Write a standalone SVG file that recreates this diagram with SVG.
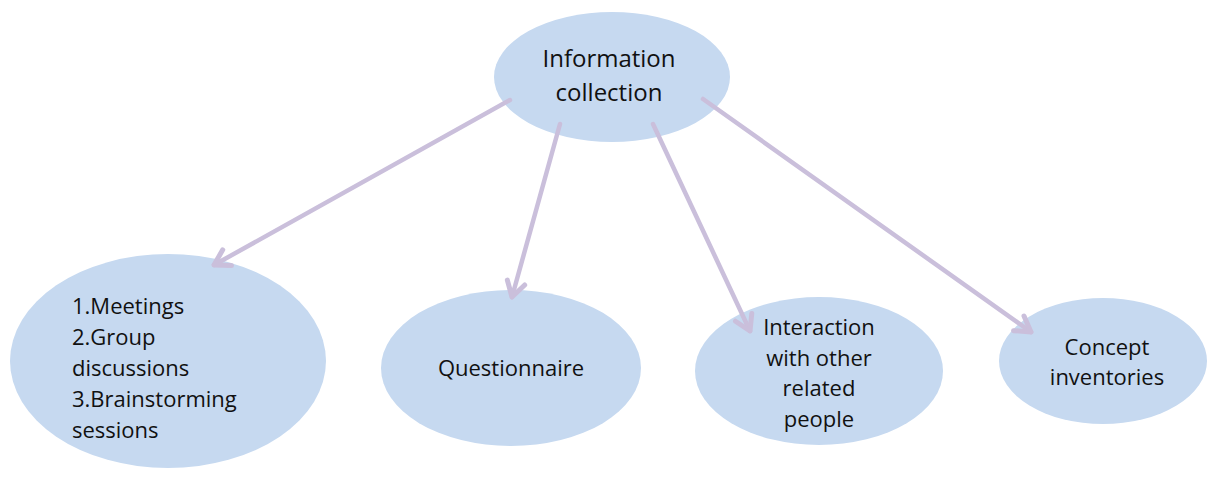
<svg xmlns="http://www.w3.org/2000/svg" width="1208" height="479" viewBox="0 0 1208 479">
<style>
.node{fill:#c6d9f0;}
.lbl{font-family:"Open Sans","Liberation Sans",sans-serif;font-size:22px;fill:#111;}
.mid{text-anchor:middle;}
.conn{stroke:#cabfdb;stroke-width:4.5;fill:none;stroke-linecap:round;}
</style>
<defs>
<marker id="arr" markerUnits="userSpaceOnUse" markerWidth="30" markerHeight="30" viewBox="-20 -15 25 30" refX="0" refY="0" orient="auto">
<path d="M-15,-9 L0,0 L-15,9" fill="none" stroke="#cabfdb" stroke-width="5" stroke-linecap="round" stroke-linejoin="round"/>
</marker>
</defs>
<rect width="1208" height="479" fill="#ffffff"/>
<g id="n-info">
<ellipse class="node" cx="612" cy="77" rx="118" ry="65"/>
<text class="lbl mid" x="609" y="67" style="font-size:24px">Information</text>
<text class="lbl mid" x="609" y="101" style="font-size:24px">collection</text>
</g>
<g id="n-meetings">
<ellipse class="node" cx="168" cy="361" rx="158" ry="107"/>
<text class="lbl" x="72" y="314">1.Meetings</text>
<text class="lbl" x="72" y="345">2.Group</text>
<text class="lbl" x="72" y="376">discussions</text>
<text class="lbl" x="72" y="407">3.Brainstorming</text>
<text class="lbl" x="72" y="438">sessions</text>
</g>
<g id="n-questionnaire">
<ellipse class="node" cx="511" cy="368" rx="130" ry="78"/>
<text class="lbl mid" x="511" y="376">Questionnaire</text>
</g>
<g id="n-interaction">
<ellipse class="node" cx="819" cy="371" rx="124" ry="74"/>
<text class="lbl mid" x="819" y="335">Interaction</text>
<text class="lbl mid" x="819" y="366">with other</text>
<text class="lbl mid" x="819" y="396">related</text>
<text class="lbl mid" x="819" y="427">people</text>
</g>
<g id="n-concept">
<ellipse class="node" cx="1103" cy="361" rx="104" ry="63"/>
<text class="lbl mid" x="1107" y="355">Concept</text>
<text class="lbl mid" x="1107" y="385">inventories</text>
</g>
<g id="connectors">
<line class="conn" x1="510" y1="100" x2="214" y2="265" marker-end="url(#arr)"/>
<line class="conn" x1="560" y1="124" x2="512" y2="297" marker-end="url(#arr)"/>
<line class="conn" x1="653" y1="124" x2="750" y2="331" marker-end="url(#arr)"/>
<line class="conn" x1="703" y1="99" x2="1031" y2="332" marker-end="url(#arr)"/>
</g>
</svg>
